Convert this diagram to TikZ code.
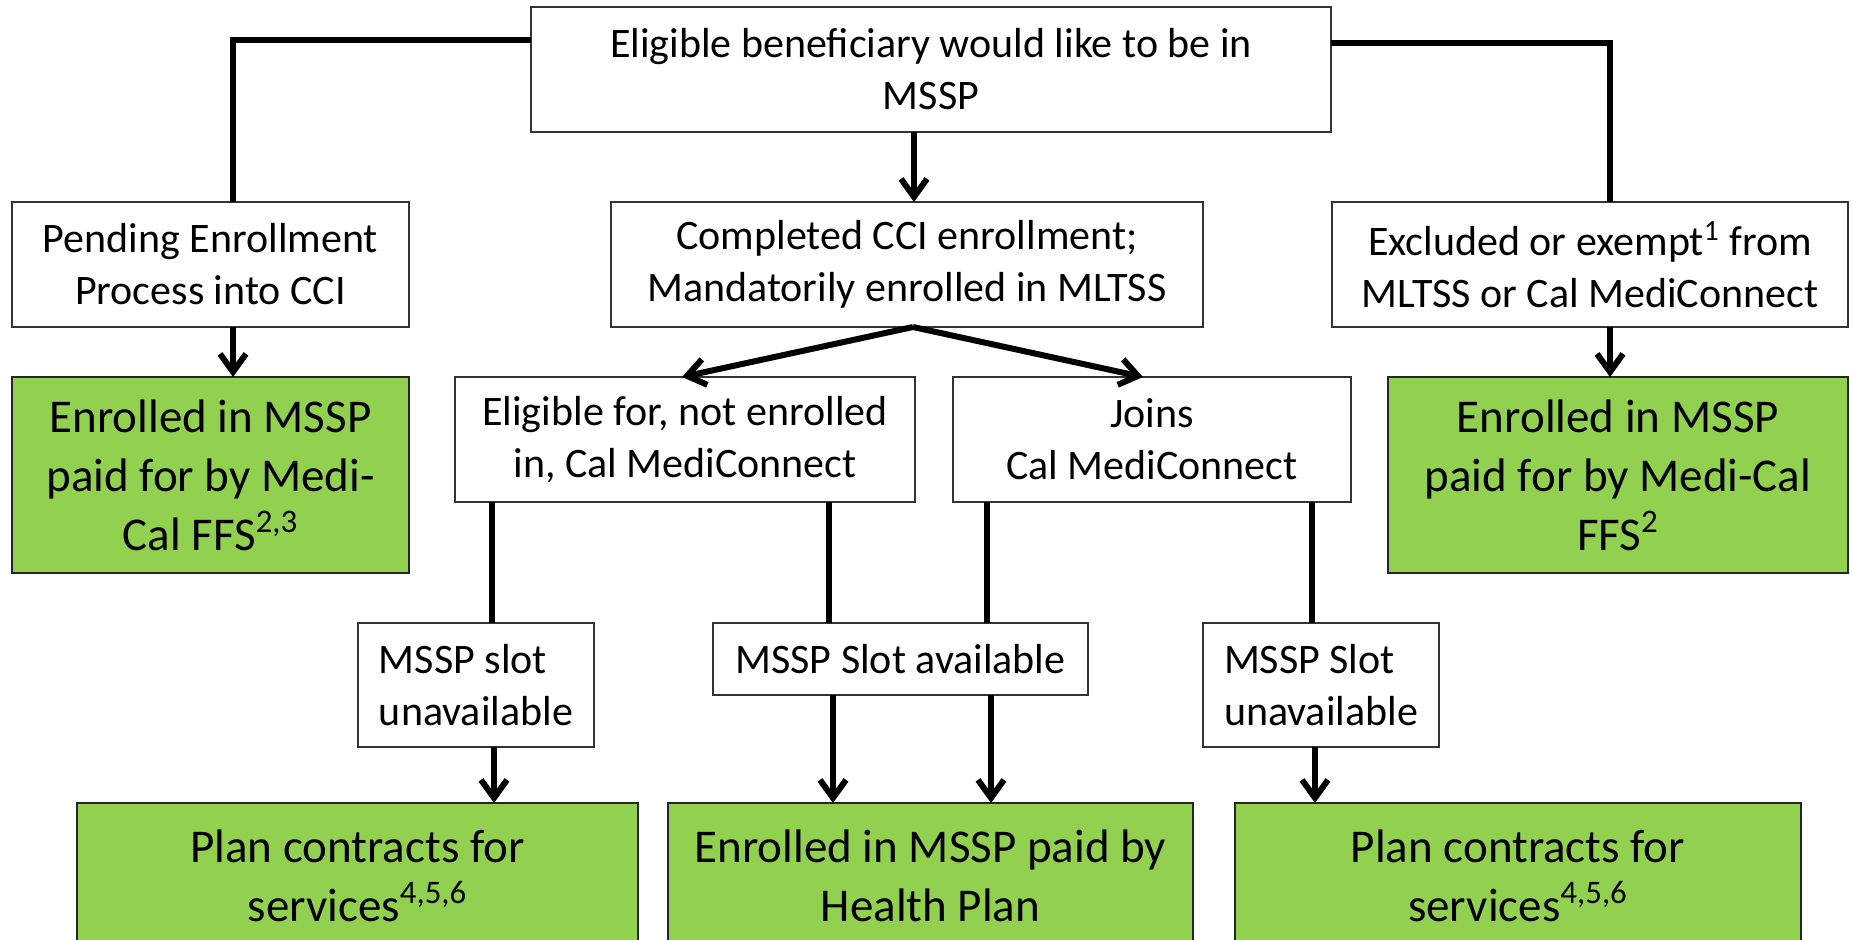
\documentclass[tikz,border=0pt]{standalone}
\usepackage{fontspec}
\setmainfont{Carlito}
\usetikzlibrary{arrows.meta}
\definecolor{boxgreen}{HTML}{92D050}
\tikzset{
  wbox/.style={draw=black!80, line width=0.75pt, fill=white, inner sep=0pt, outer sep=0pt,
    align=center, font=\fontsize{21}{26}\selectfont},
  gbox/.style={draw=black!85, line width=0.75pt, fill=boxgreen, inner sep=0pt, outer sep=0pt,
    align=center, font=\fontsize{23.5}{29.5}\selectfont},
  conn/.style={line width=3pt, black},
  arr/.style={line width=3pt, black, -{Straight Barb[length=9pt,width=13pt]}},
}
\begin{document}
\begin{tikzpicture}[x=0.5pt,y=-0.5pt]
\clip (0,0) rectangle (1852,939);
\fill[white] (0,0) rectangle (1852,939);
% row 1
\node[wbox, minimum width=400pt, minimum height=62.5pt] (top) at (931,69.5)
  {Eligible beneficiary would like to be in\\MSSP};
% row 2
\node[wbox, minimum width=198.5pt, minimum height=62.5pt] (pending) at (210.5,264.5)
  {Pending Enrollment\\Process into CCI};
\node[wbox, minimum width=296pt, minimum height=62.5pt] (completed) at (907,264.5)
  {Completed CCI enrollment;\\Mandatorily enrolled in MLTSS};
\node[wbox, minimum width=258pt, minimum height=62.5pt] (excluded) at (1590,264.5)
  {Excluded or exempt\textsuperscript{1} from\\MLTSS or Cal MediConnect};
% row 3
\node[gbox, minimum width=198.5pt, minimum height=98pt] (greenL) at (210.5,475)
  {Enrolled in MSSP\\paid for by Medi-\\Cal FFS\textsuperscript{2,3}};
\node[wbox, minimum width=230pt, minimum height=62.5pt] (eligible) at (685,439.5)
  {Eligible for, not enrolled\\in, Cal MediConnect};
\node[wbox, minimum width=199pt, minimum height=62.5pt] (joins) at (1152,439.5)
  {Joins\\Cal MediConnect};
\node[gbox, minimum width=230pt, minimum height=98pt] (greenR) at (1618,475)
  {Enrolled in MSSP\\paid for by Medi-Cal\\FFS\textsuperscript{2}};
% row 4
\node[wbox, align=left, minimum width=118pt, minimum height=62pt] (slotUnL) at (476,685)
  {MSSP slot\\unavailable};
\node[wbox, minimum width=187.5pt, minimum height=36pt] (slotAv) at (900.5,659)
  {MSSP Slot available};
\node[wbox, align=left, minimum width=118pt, minimum height=62pt] (slotUnR) at (1321,685)
  {MSSP Slot\\unavailable};
% row 5
\node[gbox, minimum width=280.5pt, minimum height=73pt] (planL) at (357.5,876)
  {Plan contracts for\\services\textsuperscript{4,5,6}};
\node[gbox, minimum width=262.5pt, minimum height=73pt] (midG) at (930.5,876)
  {Enrolled in MSSP paid by\\Health Plan};
\node[gbox, minimum width=283pt, minimum height=73pt] (planR) at (1518,876)
  {Plan contracts for\\services\textsuperscript{4,5,6}};
% connectors
\draw[conn] ([yshift=14.75pt]top.west) -| ([xshift=11.25pt]pending.north);
\draw[conn] ([yshift=13.25pt]top.east) -| ([xshift=10pt]excluded.north);
\draw[arr] ([xshift=-8.5pt]top.south) -- ([xshift=-8.5pt]top.south |- completed.north);
\draw[arr] ([xshift=11.25pt]pending.south) -- ([xshift=11.25pt]pending.south |- greenL.north);
\draw[arr] ([xshift=10pt]excluded.south) -- ([xshift=10pt]excluded.south |- greenR.north);
\draw[arr] ([xshift=3pt]completed.south) -- ([xshift=-1.5pt]eligible.north);
\draw[arr] ([xshift=3pt]completed.south) -- ([xshift=-4.5pt]joins.north);
\draw[conn] ([xshift=-96.5pt]eligible.south) -- ([xshift=8pt]slotUnL.north);
\draw[conn] ([xshift=72pt]eligible.south) -- ([xshift=-35.75pt]slotAv.north);
\draw[conn] ([xshift=-82.5pt]joins.south) -- ([xshift=43.25pt]slotAv.north);
\draw[conn] ([xshift=80pt]joins.south) -- ([xshift=-4.5pt]slotUnR.north);
\draw[arr] ([xshift=9pt]slotUnL.south) -- ([xshift=9pt]slotUnL.south |- planL.north);
\draw[arr] ([xshift=-33.75pt]slotAv.south) -- ([xshift=-33.75pt]slotAv.south |- midG.north);
\draw[arr] ([xshift=45.25pt]slotAv.south) -- ([xshift=45.25pt]slotAv.south |- midG.north);
\draw[arr] ([xshift=-3pt]slotUnR.south) -- ([xshift=-3pt]slotUnR.south |- planR.north);
\end{tikzpicture}
\end{document}
